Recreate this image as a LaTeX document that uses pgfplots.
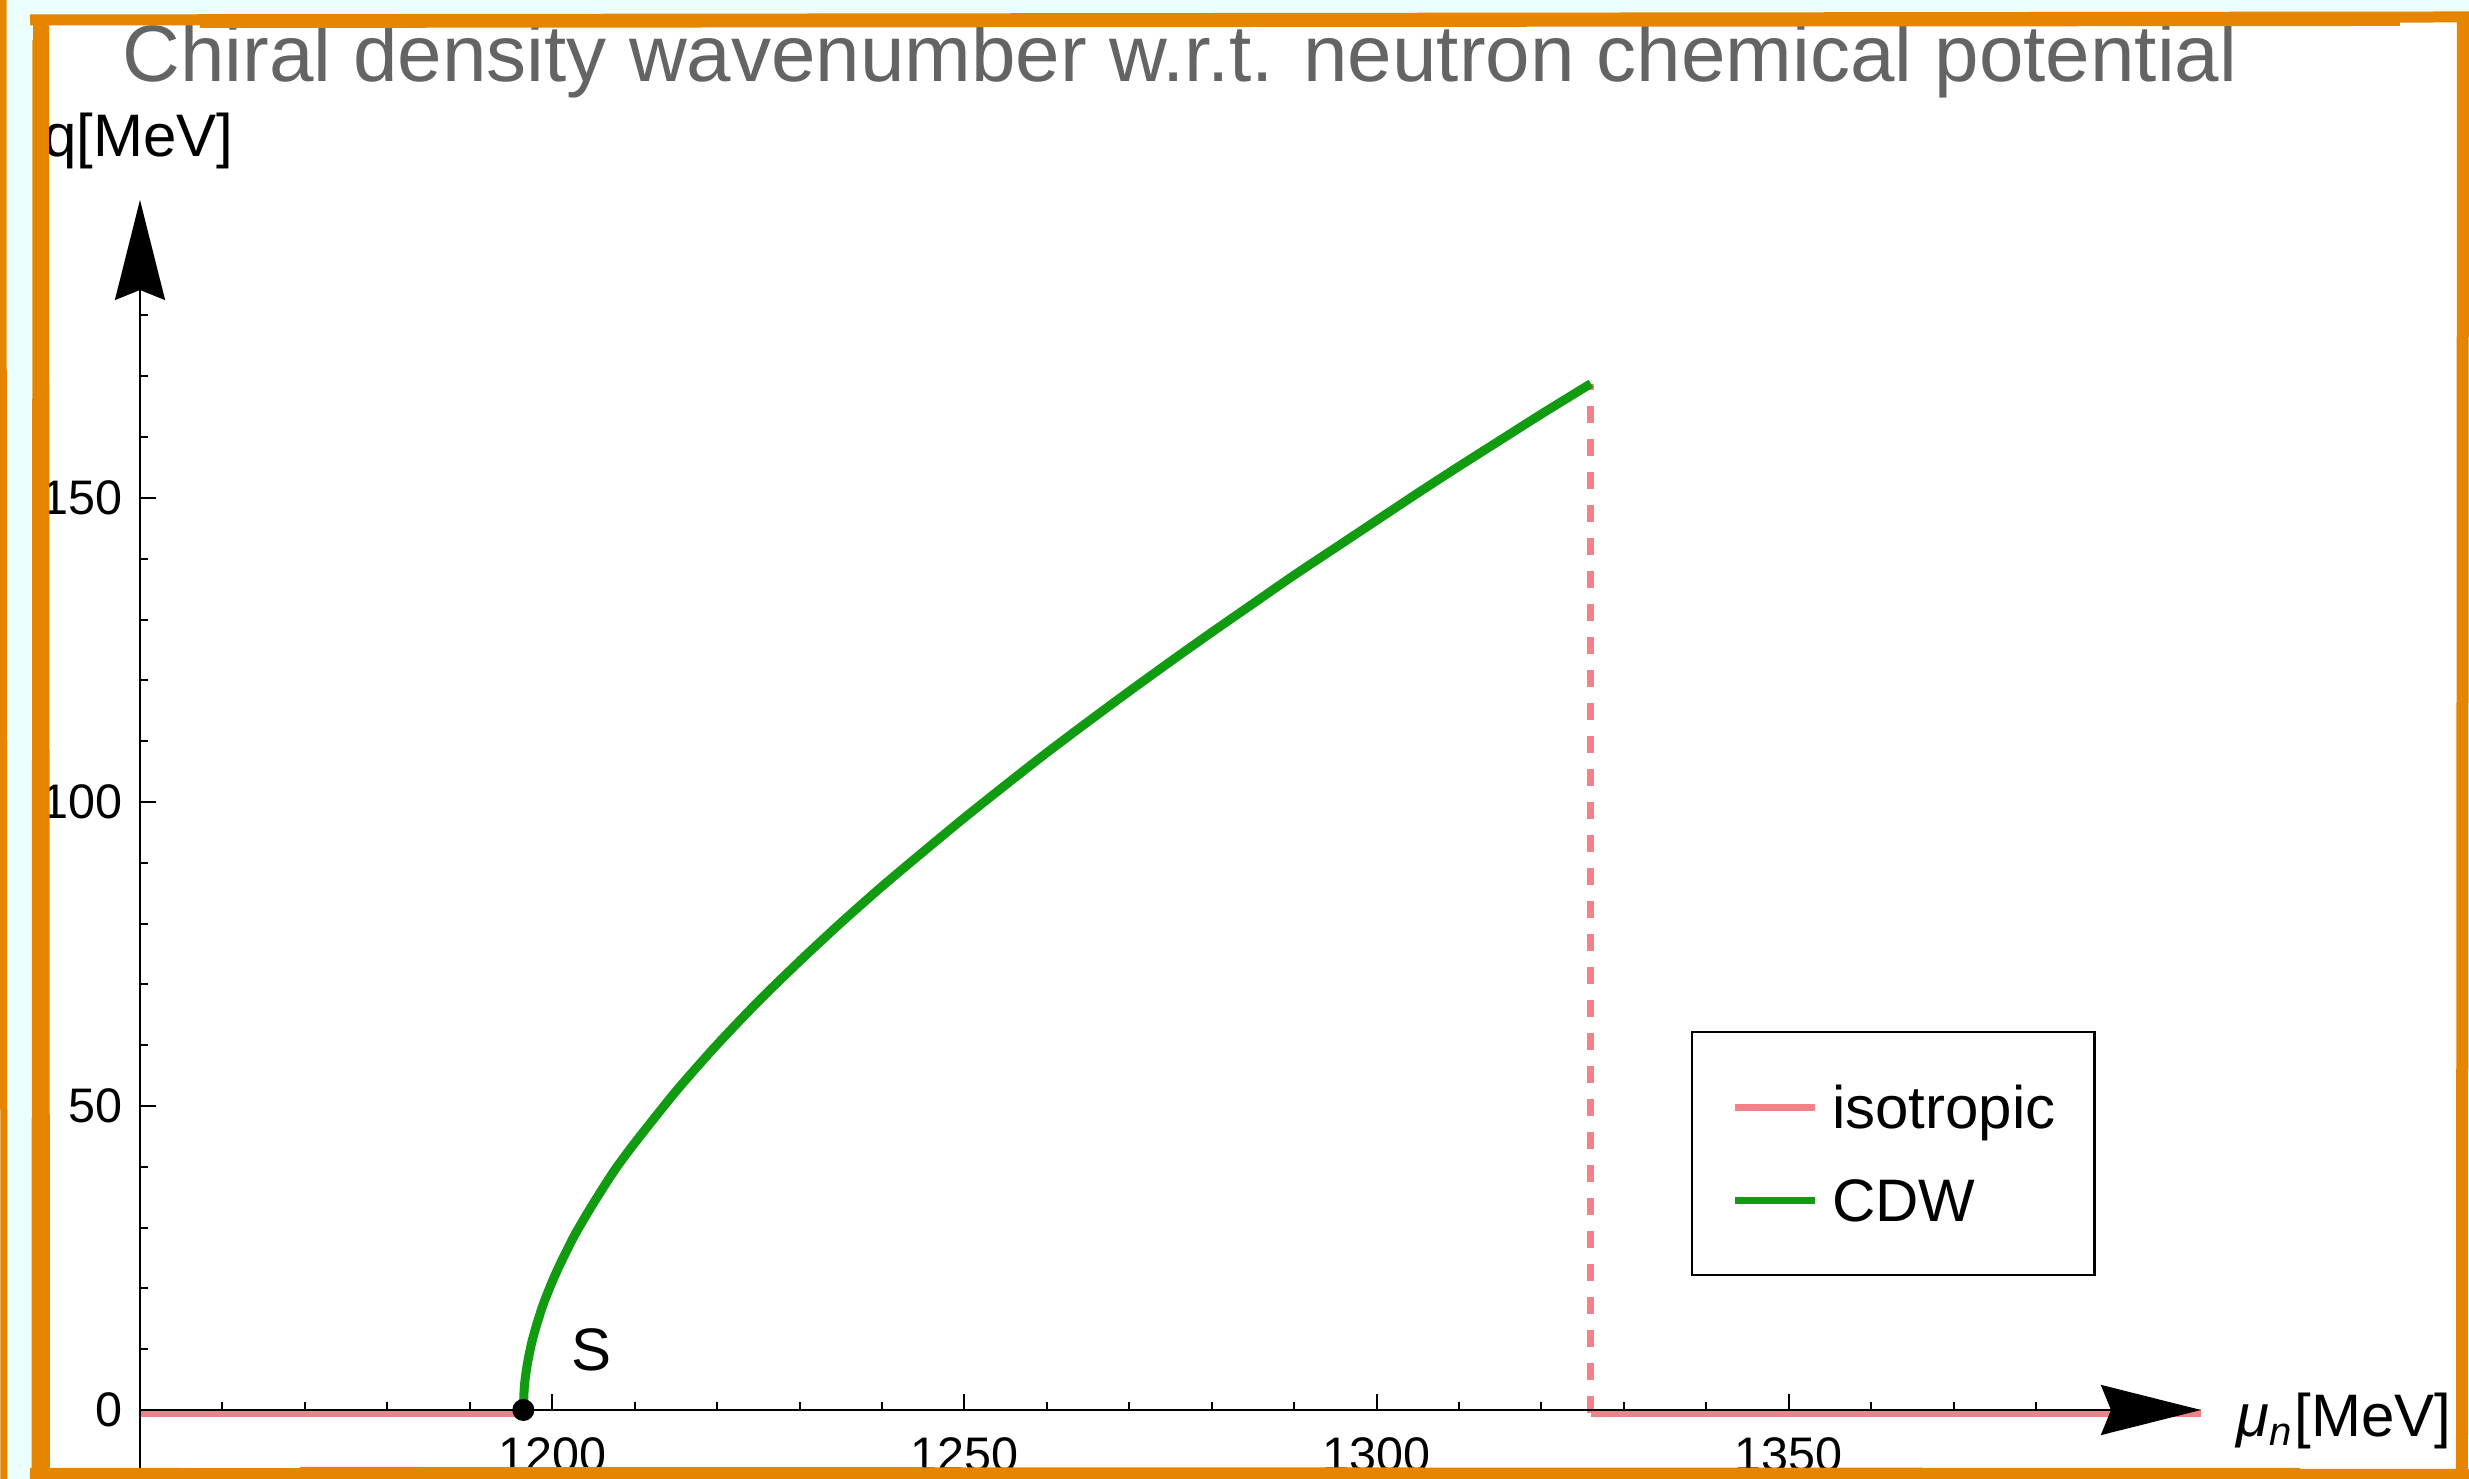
\documentclass[border=0pt]{standalone}
\usepackage{fontspec}
\setmainfont{Liberation Sans}
\usepackage{pgfplots}
\pgfplotsset{compat=1.18}
\usetikzlibrary{arrows.meta}
\definecolor{isopink}{RGB}{242,130,135}
\definecolor{cdwgreen}{RGB}{16,155,16}
\definecolor{bordor}{RGB}{229,133,0}
\definecolor{bgcyan}{RGB}{236,255,255}
\definecolor{titlegray}{RGB}{100,100,100}
\begin{document}
\begin{tikzpicture}
\path[use as bounding box, fill=bgcyan] (0,0) rectangle (493.8pt,295.8pt);
\begin{scope}[x=0.2pt,y=-0.2pt,shift={(0,295.8pt)}]
\fill[white] (40,22) rectangle (2460,1472);
\end{scope}
\begin{axis}[
  at={(28pt,-0.8pt)}, anchor=south west,
  scale only axis, width=412.2pt, height=256.6pt,
  xmin=1150, xmax=1400, ymin=-12, ymax=199,
  enlargelimits=false,
  axis x line=middle, axis y line=left,
  axis on top,
  axis line style={line width=0.5pt, black},
  x axis line style={-{Stealth[length=20pt,width=10pt,inset=2pt]}},
  y axis line style={-{Stealth[length=20pt,width=10pt,inset=2pt]}},
  xtick={1200,1250,1300,1350},
  ytick={0,50,100,150},
  minor xtick={1160,1170,...,1390},
  minor ytick={-10,0,...,190},
  tick align=inside,
  major tick length=3.2pt, minor tick length=1.6pt,
  every tick/.style={black, line width=0.4pt},
  ticklabel style={font=\fontsize{9.7}{11}\selectfont},
  /pgf/number format/assume math mode=true,
  /pgf/number format/1000 sep={},
  xticklabel style={yshift=-2pt},
  legend style={at={(0.7525,0.3526)}, anchor=north west, draw=black, line width=0.5pt, fill=white,
    font=\fontsize{12}{14}\selectfont, inner xsep=7.8pt, inner ysep=10.7pt, row sep=10pt,
    column sep=2.8pt,
    nodes={inner sep=0pt, text height=8.6pt, text depth=0pt}},
  legend cell align=left,
  legend image code/.code={\draw[#1, solid, line width=1.4pt] (0pt,-0.2pt) -- (16pt,-0.2pt);},
]
\addplot[isopink, line width=1.6pt] coordinates {(1150,-0.5) (1196.5,-0.5)};
\addlegendentry{isotropic}
\addplot[isopink, line width=1.6pt, forget plot] coordinates {(1326,-0.5) (1400,-0.5)};
\addplot[isopink, line width=1.4pt, dash pattern=on 3.4pt off 3.2pt, forget plot] coordinates {(1326,-0.5) (1326,168.8)};
\addplot[cdwgreen, line width=1.8pt, smooth, tension=0.4] coordinates {
(1196.5,0) (1196.6,3.4) (1196.75,5.4) (1197.0,7.7) (1197.5,11.0) (1198.0,13.5) (1198.5,15.7)
(1199.0,17.7) (1200,21.1) (1201,24.1) (1202.5,28.2) (1203.5,30.6)
(1205,34.0) (1207.5,39.3) (1210,43.9) (1215,52.4) (1220,60.1) (1225,67.2) (1230,73.8)
(1235,80.1) (1240,86.1) (1245,91.8) (1250,97.4) (1255,102.8) (1260,108.1)
(1265,113.2) (1270,118.2) (1275,123.1) (1280,127.9) (1285,132.6) (1290,137.3)
(1295,141.8) (1300,146.3) (1305,150.8) (1310,155.2) (1315,159.5) (1320,163.8)
(1326,168.8)};
\addlegendentry{CDW}
\addplot[black, only marks, mark=*, mark size=2pt, forget plot] coordinates {(1196.5,0)};
\node[font=\fontsize{12}{14}\selectfont] at (axis cs:1204.8,9.9) {S};
\end{axis}
\begin{scope}[x=0.2pt,y=-0.2pt,shift={(0,295.8pt)}]
\node[anchor=base, inner sep=0pt, text=titlegray, font=\fontsize{16}{19}\selectfont] at (1180,82) {Chiral density wavenumber w.r.t. neutron chemical potential};
\node[anchor=base west, inner sep=0pt, font=\fontsize{12}{14}\selectfont] at (42,157) {q[MeV]};
\node[anchor=base west, inner sep=0pt, font=\fontsize{12}{14}\selectfont] at (2236,1437) {\textit{μ}\textsubscript{\textit{n}}[MeV]};
% hand-drawn style border
\draw[bordor, line width=3.2pt] (41,18) -- (42,1479);
\draw[bordor, line width=1.0pt] (35,40) -- (34,1479);
\draw[bordor, line width=1.4pt] (3,0) -- (4,1479);
\draw[bordor, line width=2.2pt] (30,20) -- (2469,17);
\draw[bordor, line width=0.8pt] (200,26) -- (2400,24);
\draw[bordor, line width=2.4pt] (2463,15) -- (2462,1479);
\draw[bordor, line width=2.4pt] (30,1474) -- (2469,1475);
\draw[bordor, line width=0.8pt] (300,1469) -- (2300,1470);
\end{scope}
\end{tikzpicture}
\end{document}
